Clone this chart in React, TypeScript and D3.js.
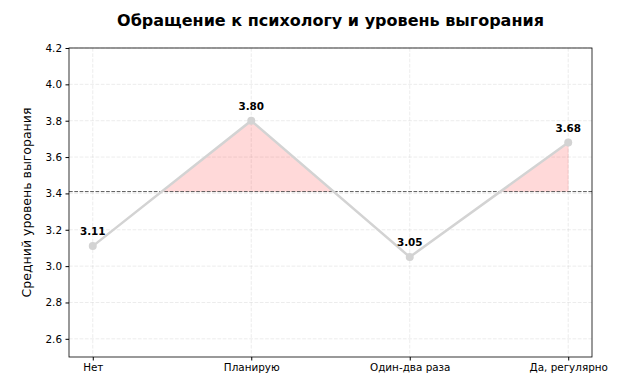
import React, { useEffect, useRef } from 'react';
import * as d3 from 'd3';

const categories = ['Нет', 'Планирую', 'Один-два раза', 'Да, регулярно'];
const values = [3.11, 3.8, 3.05, 3.68];
const yTicks = [2.6, 2.8, 3.0, 3.2, 3.4, 3.6, 3.8, 4.0, 4.2];

const W = 643;
const H = 389;
const margin = { top: 48, right: 51, bottom: 32, left: 69 };
const font = 'DejaVu Sans, sans-serif';

export default function App() {
  const svgRef = useRef<SVGSVGElement>(null);

  useEffect(() => {
    if (!svgRef.current) return;
    const svg = d3.select(svgRef.current);
    svg.selectAll('*').remove();

    const innerW = W - margin.left - margin.right;
    const innerH = H - margin.top - margin.bottom;
    const mean = d3.mean(values)!;

    const x = d3.scaleLinear().domain([-0.15, 3.15]).range([0, innerW]);
    const y = d3.scaleLinear().domain([2.5, 4.2]).range([innerH, 0]);

    const g = svg.append('g').attr('transform', `translate(${margin.left},${margin.top})`);

    // grid
    g.selectAll('line.gy')
      .data(yTicks)
      .enter()
      .append('line')
      .attr('x1', 0)
      .attr('x2', innerW)
      .attr('y1', (d) => y(d))
      .attr('y2', (d) => y(d))
      .attr('stroke', '#b0b0b0')
      .attr('stroke-opacity', 0.3)
      .attr('stroke-dasharray', '3.7,1.6')
      .attr('stroke-width', 0.8);
    g.selectAll('line.gx')
      .data(categories)
      .enter()
      .append('line')
      .attr('x1', (_, i) => x(i))
      .attr('x2', (_, i) => x(i))
      .attr('y1', 0)
      .attr('y2', innerH)
      .attr('stroke', '#b0b0b0')
      .attr('stroke-opacity', 0.3)
      .attr('stroke-dasharray', '3.7,1.6')
      .attr('stroke-width', 0.8);

    // fill above mean (interpolated crossings)
    const pts = values.map((v, i) => [i, v] as [number, number]);
    const polys: [number, number][][] = [];
    let cur: [number, number][] = [];
    for (let i = 0; i < pts.length; i++) {
      const [xi, vi] = pts[i];
      if (i > 0) {
        const [xp, vp] = pts[i - 1];
        if ((vp - mean) * (vi - mean) < 0) {
          const t = (mean - vp) / (vi - vp);
          const xc = xp + t * (xi - xp);
          cur.push([xc, mean]);
          if (vi < mean) {
            polys.push(cur);
            cur = [];
          }
        }
      }
      if (vi >= mean) {
        if (cur.length === 0 && i === 0) cur.push([xi, mean]);
        cur.push([xi, vi]);
      }
    }
    if (cur.length) {
      cur.push([cur[cur.length - 1][0], mean]);
      polys.push(cur);
    }
    const area = d3
      .line<[number, number]>()
      .x((d) => x(d[0]))
      .y((d) => y(d[1]));
    polys.forEach((p) => {
      g.append('path')
        .attr('d', area(p) + 'Z')
        .attr('fill', 'red')
        .attr('fill-opacity', 0.15)
        .attr('stroke', 'red')
        .attr('stroke-opacity', 0.08);
    });

    // mean line
    g.append('line')
      .attr('x1', 0)
      .attr('x2', innerW)
      .attr('y1', y(mean))
      .attr('y2', y(mean))
      .attr('stroke', '#555')
      .attr('stroke-width', 1)
      .attr('stroke-dasharray', '3.7,1.6');

    // line
    g.append('path')
      .attr('d', area(pts))
      .attr('fill', 'none')
      .attr('stroke', '#d3d3d3')
      .attr('stroke-width', 2.5);
    g.selectAll('circle')
      .data(pts)
      .enter()
      .append('circle')
      .attr('cx', (d) => x(d[0]))
      .attr('cy', (d) => y(d[1]))
      .attr('r', 4)
      .attr('fill', '#d3d3d3');

    g.selectAll('text.val')
      .data(pts)
      .enter()
      .append('text')
      .attr('x', (d) => x(d[0]))
      .attr('y', (d) => y(d[1]) - 11)
      .attr('text-anchor', 'middle')
      .style('font-family', font)
      .style('font-size', '10.4px')
      .style('font-weight', 'bold')
      .text((d) => d[1].toFixed(2));

    // frame
    g.append('rect')
      .attr('width', innerW)
      .attr('height', innerH)
      .attr('fill', 'none')
      .attr('stroke', '#000')
      .attr('stroke-width', 0.8);

    // y axis
    const ya = g
      .append('g')
      .call(d3.axisLeft(y).tickValues(yTicks).tickSize(3.5).tickPadding(3.5).tickFormat(d3.format('.1f')));
    ya.select('.domain').remove();
    ya.selectAll('text').style('font-family', font).style('font-size', '10.4px').attr('fill', '#000');

    const xa = g
      .append('g')
      .attr('transform', `translate(0,${innerH})`)
      .call(
        d3
          .axisBottom(x)
          .tickValues([0, 1, 2, 3])
          .tickSize(3.5)
          .tickPadding(3.5)
          .tickFormat((d) => categories[d as number])
      );
    xa.select('.domain').remove();
    xa.selectAll('text').style('font-family', font).style('font-size', '10.4px').attr('fill', '#000');

    svg
      .append('text')
      .attr('transform', `translate(31,${margin.top + innerH / 2}) rotate(-90)`)
      .attr('text-anchor', 'middle')
      .style('font-family', font)
      .style('font-size', '12.5px')
      .text('Средний уровень выгорания');

    svg
      .append('text')
      .attr('x', margin.left + innerW / 2)
      .attr('y', 26)
      .attr('text-anchor', 'middle')
      .style('font-family', font)
      .style('font-size', '16px')
      .style('font-weight', 'bold')
      .text('Обращение к психологу и уровень выгорания');
  }, []);

  return (
    <div style={{ margin: -8 }}>
      <svg ref={svgRef} width={W} height={H} style={{ display: 'block', background: '#fff' }} />
    </div>
  );
}
